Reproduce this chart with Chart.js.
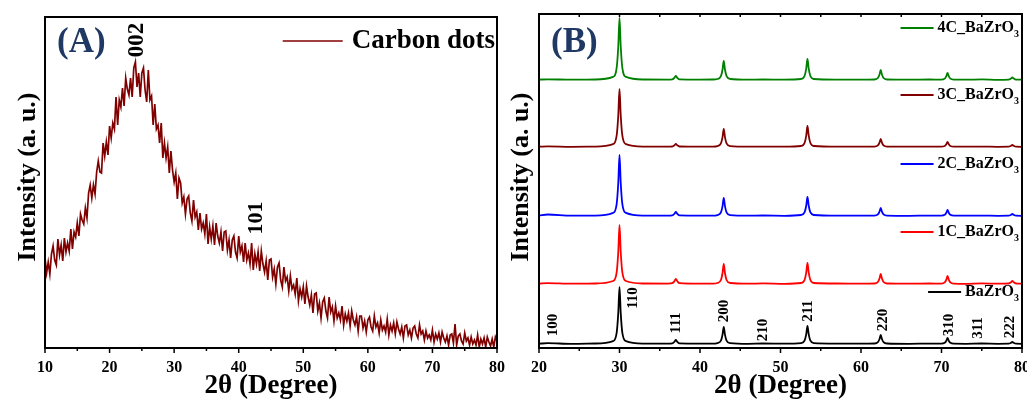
<!DOCTYPE html>
<html>
<head>
<meta charset="utf-8">
<title>XRD patterns</title>
<script src="https://cdn.jsdelivr.net/npm/chart.js@4.4.1/dist/chart.umd.min.js"></script>
<style>
  html, body { margin: 0; padding: 0; background: #fff; }
  #chartA { position: absolute; left: 0; top: 0; }
  #chartB { position: absolute; left: 505px; top: 0; }
</style>
</head>
<body>
<canvas id="chartA" width="505" height="399"></canvas>
<canvas id="chartB" width="522" height="399"></canvas>
<script>
// ---------- Panel A : carbon dots, raw scan 10-80 deg, 0.25 deg step ----------
const carbonStart = 10;
const carbonStep = 0.25;
const carbonIntensity = [
  90, 75, 86, 74,   94, 102, 88, 83,   109, 93, 103, 87,   110, 96, 105, 97,
  119, 99, 116, 111,   125, 112, 134, 128,   124, 140, 130, 155,   163, 150, 163, 154,
  176, 187, 176, 175,   205, 192, 206, 193,   222, 210, 225, 219,   251, 223, 248, 241,
  260, 242, 270, 259,   253, 270, 251, 280,   286, 261, 275, 251,   275, 280, 258, 246,
  278, 248, 252, 223,   244, 219, 223, 205,   225, 190, 205, 190,   201, 175, 197, 178,
  166, 175, 149, 170,   165, 145, 151, 134,   149, 152, 135, 127,   148, 131, 136, 118,
  135, 119, 125, 114,   134, 104, 121, 109,   122, 103, 125, 112,   105, 116, 97, 116,
  117, 98, 108, 90,   108, 112, 96, 90,   112, 96, 102, 86,   105, 88, 95, 84,
  105, 78, 94, 84,   96, 77, 97, 84,   76, 87, 68, 88,   89, 71, 79, 64,
  81, 85, 68, 61,   81, 67, 71, 57,   72, 59, 63, 54,   70, 47, 59, 51,
  61, 44, 62, 51,   43, 53, 35, 54,   55, 37, 45, 30,   46, 50, 37, 30,
  51, 36, 41, 27,   42, 30, 35, 28,   42, 23, 34, 27,   35, 22, 37, 28,
  23, 31, 17, 32,   32, 20, 27, 16,   28, 31, 21, 17,   32, 21, 25, 15,
  28, 18, 22, 16,   29, 13, 23, 17,   25, 14, 26, 19,   14, 21, 10, 22,
  23, 13, 18, 10,   20, 22, 14, 10,   23, 14, 17, 8,   17, 10, 13, 8,
  18, 6, 14, 9,   15, 6, 16, 10,   6, 12, 3, 13,   14, 5, 24, 3,
  12, 14, 7, 4,   15, 7, 10, 3,   11, 4, 8, 3,   13, 1, 9, 4,
  10, 1, 11, 6,   2, 9, 1, 11,
  7
];
const carbonPeakLabels = ['002', '101'];
const carbonPeakTheta = [24.2, 42.8];
const carbonPeakLabelY = [308, 130];

// ---------- Panel B : BaZrO3 series, stacked ----------
const thetaB = [
  20, 21.1, 24, 27,
  29.2, 29.65, 29.85, 30.0, 30.15, 30.35, 30.8,
  33, 36.0,
  36.55, 36.82, 37.0, 37.18, 37.45,
  40, 41.6,
  42.15, 42.6, 42.8, 42.95, 43.1, 43.3, 43.75,
  46, 47.8, 50.5,
  52.55, 53.0, 53.2, 53.35, 53.5, 53.7, 54.15,
  57, 60,
  61.65, 62.1, 62.3, 62.45, 62.6, 62.8, 63.25,
  66, 68.5,
  69.95, 70.4, 70.6, 70.75, 70.9, 71.1, 71.55,
  73, 75, 77,
  78.35, 78.62, 78.8, 78.98, 79.25,
  80
];
const bzo = [
  0.3, 0.8, 0.2, 0.5,
  2.9, 11.4, 31.4, 57, 31.4, 11.4, 2.9,
  0.4, 0.3,
  0.6, 2.2, 4, 2.2, 0.6,
  0.4, 0.3,
  0.9, 3.4, 9.4, 17, 9.4, 3.4, 0.9,
  0.2, 0.5, 0.3,
  0.9, 3.6, 9.9, 18, 9.9, 3.6, 0.9,
  0.4, 0.3,
  0.5, 1.8, 5, 9, 5, 1.8, 0.5,
  0.2, 0.4,
  0.3, 1.2, 3.3, 6, 3.3, 1.2, 0.3,
  0.2, 0.5, 0.2,
  0.3, 1.1, 2, 1.1, 0.3,
  0.2
];
const bzo1C = [
  0.4, 0.9, 0.3, 0.5,
  3, 11.8, 32.5, 59, 32.5, 11.8, 3,
  0.5, 0.4,
  0.8, 2.8, 5, 2.8, 0.8,
  0.3, 0.4,
  1, 4, 11, 20, 11, 4, 1,
  0.3, 0.6, 0.2,
  1, 4.2, 11.6, 21, 11.6, 4.2, 1,
  0.5, 0.3,
  0.5, 2, 5.5, 10, 5.5, 2, 0.5,
  0.3, 0.5,
  0.4, 1.6, 4.4, 8, 4.4, 1.6, 0.4,
  0.2, 0.6, 0.3,
  0.5, 1.7, 3, 1.7, 0.5,
  0.3
];
const bzo2C = [
  0.5, 1.5, 0.3, 0.4,
  3.1, 12.2, 33.5, 61, 33.5, 12.2, 3.1,
  0.4, 0.3,
  0.6, 2.2, 4, 2.2, 0.6,
  0.4, 0.3,
  0.9, 3.6, 9.9, 18, 9.9, 3.6, 0.9,
  0.3, 0.5, 0.2,
  1, 3.8, 10.5, 19, 10.5, 3.8, 1,
  0.3, 0.4,
  0.4, 1.6, 4.4, 8, 4.4, 1.6, 0.4,
  0.2, 0.4,
  0.3, 1.2, 3.3, 6, 3.3, 1.2, 0.3,
  0.3, 0.4, 0.2,
  0.3, 1.1, 2, 1.1, 0.3,
  0.2
];
const bzo3C = [
  0.3, 0.6, 0.2, 0.4,
  2.9, 11.6, 31.9, 58, 31.9, 11.6, 2.9,
  0.4, 0.3,
  0.5, 1.7, 3, 1.7, 0.5,
  0.3, 0.4,
  0.9, 3.6, 9.9, 18, 9.9, 3.6, 0.9,
  0.3, 0.4, 0.3,
  1, 4.2, 11.6, 21, 11.6, 4.2, 1,
  0.3, 0.4,
  0.4, 1.6, 4.4, 8, 4.4, 1.6, 0.4,
  0.3, 0.4,
  0.3, 1, 2.8, 5, 2.8, 1, 0.3,
  0.3, 0.4, 0.2,
  0.3, 1.1, 2, 1.1, 0.3,
  0.2
];
const bzo4C = [
  0.4, 0.7, 0.3, 0.5,
  3.1, 12.4, 34, 62, 34, 12.4, 3.1,
  0.5, 0.4,
  0.6, 2.2, 4, 2.2, 0.6,
  0.4, 0.5,
  1, 3.8, 10.5, 19, 10.5, 3.8, 1,
  0.3, 0.5, 0.4,
  1, 4.2, 11.6, 21, 11.6, 4.2, 1,
  0.4, 0.3,
  0.5, 2, 5.5, 10, 5.5, 2, 0.5,
  0.3, 0.5,
  0.4, 1.4, 3.9, 7, 3.9, 1.4, 0.4,
  0.3, 0.6, 0.2,
  0.4, 1.4, 2.5, 1.4, 0.4,
  0.3
];
const seriesNames = ['BaZrO', '1C_BaZrO', '2C_BaZrO', '3C_BaZrO', '4C_BaZrO'];
const seriesValues = [bzo, bzo1C, bzo2C, bzo3C, bzo4C];
const seriesOffsets = [4, 64, 132, 201, 268];
const seriesColors = ['#000000', '#ff0000', '#0000ff', '#800000', '#008000'];

const hklLabels = ['100', '110', '111', '200', '210', '211', '220', '310', '311', '222'];
const hklTheta = [21.7, 31.7, 37.0, 43.0, 47.8, 53.4, 62.7, 70.9, 74.5, 78.5];
const hklLabelY = [23, 50, 25, 37, 18, 37, 28, 23, 20, 21];

const FONT = '"Liberation Serif", "Times New Roman", serif';

// frame, titles, peak labels and legends drawn on top of each panel
const panelDecor = {
  id: 'panelDecor',
  afterDraw(chart, args, opts) {
    const ctx = chart.ctx;
    const a = chart.chartArea;
    const xs = chart.scales.x;
    const ys = chart.scales.y;
    ctx.save();

    // bottom ticks (major every 10, minor every 5)
    ctx.strokeStyle = '#000';
    ctx.lineWidth = 1.5;
    xs.ticks.forEach((t) => {
      const px = xs.getPixelForValue(t.value);
      const len = t.value % 10 === 0 ? 5 : 3;
      ctx.beginPath();
      ctx.moveTo(px, a.bottom);
      ctx.lineTo(px, a.bottom + len);
      ctx.stroke();
      if (opts.topTicks) {
        ctx.beginPath();
        ctx.moveTo(px, a.top);
        ctx.lineTo(px, a.top + 3);
        ctx.stroke();
      }
    });

    // frame
    ctx.lineWidth = 2;
    ctx.strokeRect(a.left, a.top, a.right - a.left, a.bottom - a.top);

    // axis titles
    ctx.fillStyle = '#000';
    ctx.textAlign = 'center';
    ctx.textBaseline = 'middle';
    ctx.font = 'bold 27px ' + FONT;
    ctx.fillText('2θ (Degree)', (a.left + a.right) / 2, 386);
    ctx.save();
    ctx.translate(opts.yTitleX, 177);
    ctx.rotate(-Math.PI / 2);
    ctx.font = 'bold 26px ' + FONT;
    ctx.fillText('Intensity (a. u.)', 0, 0);
    ctx.restore();

    // panel letter
    ctx.fillStyle = '#1f3864';
    ctx.textAlign = 'left';
    ctx.textBaseline = 'alphabetic';
    ctx.font = 'bold 35px ' + FONT;
    ctx.fillText(opts.letter, a.left + 12, 52);

    // rotated peak labels
    ctx.fillStyle = '#000';
    ctx.textAlign = 'center';
    ctx.textBaseline = 'middle';
    opts.peaks.labels.forEach((lab, i) => {
      ctx.save();
      ctx.translate(xs.getPixelForValue(opts.peaks.theta[i]), ys.getPixelForValue(opts.peaks.y[i]));
      ctx.rotate(-Math.PI / 2);
      ctx.font = 'bold ' + opts.peaks.size[i] + 'px ' + FONT;
      ctx.fillText(lab, 0, 0);
      ctx.restore();
    });

    // legend entries
    opts.legend.forEach((item) => {
      const y = ys.getPixelForValue(item.y);
      ctx.font = 'bold ' + item.size + 'px ' + FONT;
      const mainW = ctx.measureText(item.text).width;
      let subW = 0;
      if (item.sub) {
        ctx.font = 'bold ' + Math.round(item.size * 0.62) + 'px ' + FONT;
        subW = ctx.measureText(item.sub).width;
      }
      const start = item.right - mainW - subW;
      ctx.textAlign = 'left';
      ctx.textBaseline = 'middle';
      ctx.fillStyle = '#000';
      ctx.font = 'bold ' + item.size + 'px ' + FONT;
      ctx.fillText(item.text, start, y);
      if (item.sub) {
        ctx.font = 'bold ' + Math.round(item.size * 0.62) + 'px ' + FONT;
        ctx.fillText(item.sub, start + mainW, y + item.size * 0.4);
      }
      ctx.strokeStyle = item.color;
      ctx.lineWidth = item.lineWidth;
      ctx.beginPath();
      ctx.moveTo(start - item.gap - item.len, y);
      ctx.lineTo(start - item.gap, y);
      ctx.stroke();
    });

    ctx.restore();
  }
};

const xAxis = (min, max) => ({
  type: 'linear',
  min: min,
  max: max,
  border: { display: false },
  grid: { display: false, drawTicks: false },
  ticks: {
    stepSize: 5,
    autoSkip: false,
    maxRotation: 0,
    padding: 10,
    color: '#000',
    font: { family: FONT, size: 16, weight: 'bold' },
    callback: (v) => (v % 10 === 0 ? v : '')
  },
  afterFit(s) {
    s.height = 51;
    s.paddingLeft = 0;
    s.paddingRight = 0;
  }
});

const yAxis = (max, width) => ({
  min: 0,
  max: max,
  border: { display: false },
  grid: { display: false },
  ticks: { display: false },
  afterFit(s) {
    s.width = width;
  }
});

// Panel A
new Chart(document.getElementById('chartA'), {
  type: 'line',
  data: {
    datasets: [{
      label: 'Carbon dots',
      data: carbonIntensity.map((v, i) => ({ x: carbonStart + i * carbonStep, y: v })),
      borderColor: '#800000',
      borderWidth: 1.7,
      pointRadius: 0,
      tension: 0
    }]
  },
  options: {
    responsive: false,
    animation: false,
    layout: { padding: { top: 17, right: 8, left: 0, bottom: 0 } },
    plugins: {
      legend: { display: false },
      tooltip: { enabled: false },
      panelDecor: {
        letter: '(A)',
        yTitleX: 28,
        topTicks: false,
        peaks: { labels: carbonPeakLabels, theta: carbonPeakTheta, y: carbonPeakLabelY, size: [23, 22] },
        legend: [{ text: 'Carbon dots', sub: '', size: 27, color: '#800000', right: 495, y: 307, len: 60, gap: 9, lineWidth: 1.5 }]
      }
    },
    scales: { x: xAxis(10, 80), y: yAxis(331, 45) }
  },
  plugins: [panelDecor]
});

// Panel B
new Chart(document.getElementById('chartB'), {
  type: 'line',
  data: {
    datasets: seriesValues.map((vals, k) => ({
      label: seriesNames[k] + '3',
      data: vals.map((v, i) => ({ x: thetaB[i], y: v + seriesOffsets[k] })),
      borderColor: seriesColors[k],
      borderWidth: 1.8,
      pointRadius: 0,
      cubicInterpolationMode: 'monotone'
    }))
  },
  options: {
    responsive: false,
    animation: false,
    layout: { padding: { top: 14, right: 5, left: 0, bottom: 0 } },
    plugins: {
      legend: { display: false },
      tooltip: { enabled: false },
      panelDecor: {
        letter: '(B)',
        yTitleX: 16,
        topTicks: true,
        peaks: { labels: hklLabels, theta: hklTheta, y: hklLabelY, size: hklLabels.map(() => 15) },
        legend: seriesNames.map((n, k) => ({
          text: n, sub: '3', size: 16, color: seriesColors[k], right: 514,
          y: seriesOffsets[k] + 52, len: 33, gap: 4, lineWidth: 2
        }))
      }
    },
    scales: { x: xAxis(20, 80), y: yAxis(334, 34) }
  },
  plugins: [panelDecor]
});
</script>
</body>
</html>
